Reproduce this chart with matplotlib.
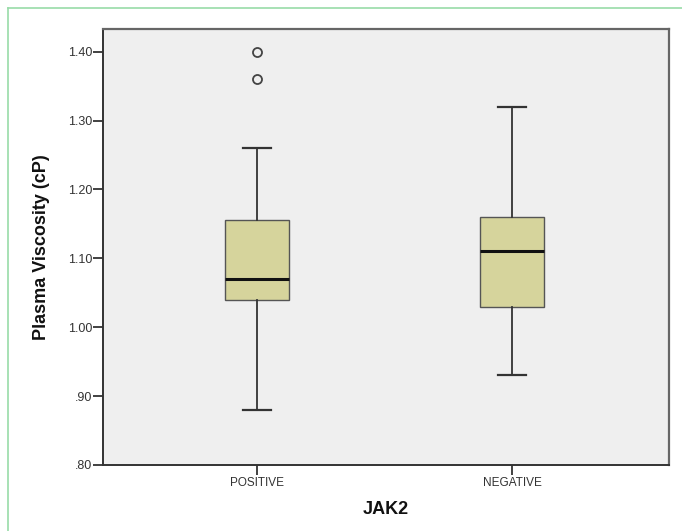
import matplotlib.pyplot as plt
from matplotlib.lines import Line2D

# box summary per group
groups = ["POSITIVE", "NEGATIVE"]
whisker_low = [0.88, 0.93]
q1 = [1.04, 1.03]
median = [1.07, 1.11]
q3 = [1.155, 1.16]
whisker_high = [1.26, 1.32]
outliers = [[1.36, 1.40], []]

yticks = [0.80, 0.90, 1.00, 1.10, 1.20, 1.30, 1.40]
ytick_labels = [".80", ".90", "1.00", "1.10", "1.20", "1.30", "1.40"]

plt.rcParams['font.family'] = ['Liberation Sans', 'DejaVu Sans']

fig = plt.figure(figsize=(6.82, 5.31), dpi=100)
ax = fig.add_axes([0.151, 0.1243, 0.830, 0.8211])
ax.set_facecolor('#efefef')

stats = []
for i, g in enumerate(groups):
    stats.append(dict(label=g, whislo=whisker_low[i], q1=q1[i], med=median[i],
                      q3=q3[i], whishi=whisker_high[i], fliers=outliers[i]))

ax.bxp(stats, positions=[1, 2], widths=0.25, capwidths=0.11, patch_artist=True,
       boxprops=dict(facecolor='#d6d49c', edgecolor='#555555', linewidth=1.0),
       medianprops=dict(color='#111111', linewidth=2.2),
       whiskerprops=dict(color='#333333', linewidth=1.3),
       capprops=dict(color='#333333', linewidth=1.6),
       flierprops=dict(marker='o', markersize=6.5, markerfacecolor='none',
                       markeredgecolor='#444444', markeredgewidth=1.3))

ax.set_xlim(0.396, 2.616)
ax.set_ylim(0.80, 1.433)
ax.set_yticks(yticks)
ax.set_yticklabels(ytick_labels)
ax.set_xticks([1, 2])
ax.set_xticklabels(groups)

ax.tick_params(axis='y', direction='out', length=7, width=1.3, color='#333333',
               labelsize=9, labelcolor='#333333', pad=0.5)
ax.tick_params(axis='x', direction='out', length=7, width=1.3, color='#333333',
               labelsize=8.5, labelcolor='#333333', pad=1.5)

for side in ['left', 'bottom']:
    ax.spines[side].set_color('#333333')
    ax.spines[side].set_linewidth(1.4)
for side in ['top', 'right']:
    ax.spines[side].set_color('#666666')
    ax.spines[side].set_linewidth(1.6)

ax.set_ylabel("Plasma Viscosity (cP)", fontsize=13, fontweight='bold',
              color='#111111', labelpad=13)
ax.set_xlabel("JAK2", fontsize=13, fontweight='bold', color='#111111',
              labelpad=9)

# green frame around the figure (top and left edges)
fig.add_artist(Line2D([8 / 682, 1.0], [1 - 8 / 531, 1 - 8 / 531],
                      transform=fig.transFigure, color='#98dca8', linewidth=1.2))
fig.add_artist(Line2D([8 / 682, 8 / 682], [0.0, 1 - 8 / 531],
                      transform=fig.transFigure, color='#98dca8', linewidth=1.2))

fig.savefig('out.png', dpi=100)
